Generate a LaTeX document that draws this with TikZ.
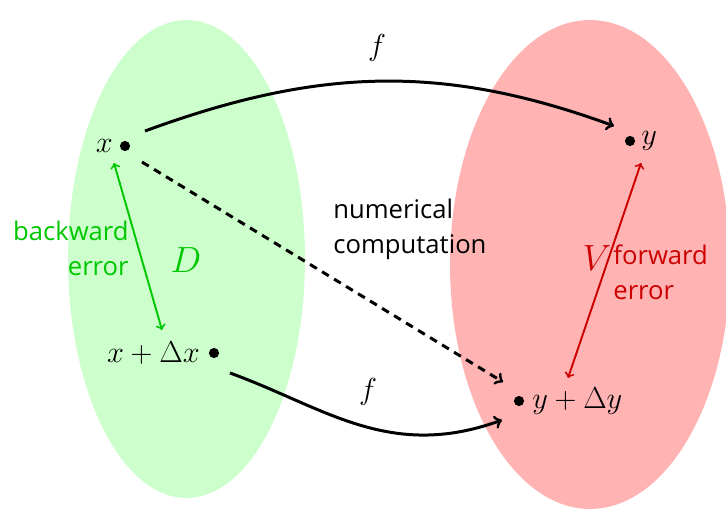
\documentclass[tikz,border=0pt]{standalone}
\usepackage{fontspec}
\newfontfamily\labelfont{Open Sans}
\usetikzlibrary{calc}
\definecolor{gfill}{RGB}{204,255,204}
\definecolor{rfill}{RGB}{255,179,179}
\definecolor{gtext}{RGB}{0,200,0}
\definecolor{rtext}{RGB}{204,0,0}
\begin{document}
\begin{tikzpicture}[x=0.02cm,y=-0.02cm,
  dotnode/.style={circle,fill=black,inner sep=0pt,minimum size=5.8pt},
  mlab/.style={font=\fontsize{16}{19}\selectfont, inner sep=0pt},
  biglab/.style={font=\fontsize{22}{26}\selectfont, inner sep=0pt},
  txt/.style={font=\labelfont\fontsize{14.6}{20}\selectfont, inner sep=0pt},
  farrow/.style={->, line width=1.7pt},
  darrow/.style={->, line width=1.7pt, dash pattern=on 4.5pt off 3.5pt},
  errarrow/.style={<->, line width=1.1pt}]
\useasboundingbox (0,0) rectangle (726,510);
\clip (0,0) rectangle (726,510);
\fill[gfill] (186.5,259) ellipse [x radius=2.37cm, y radius=4.78cm];
\fill[rfill] (590,264.5) ellipse [x radius=2.8cm, y radius=4.89cm];

\node[dotnode] (x) at (125,146) {};
\node[mlab, anchor=east] (xl) at (113,146) {$x$};
\node[dotnode] (y) at (630,141) {};
\node[mlab, anchor=west] (yl) at (641,141) {$y$};
\node[dotnode] (xd) at (214,353) {};
\node[mlab, anchor=east] (xdl) at (200,353) {$x+\Delta x$};
\node[dotnode] (yd) at (519,401) {};
\node[mlab, anchor=west] (ydl) at (532,401) {$y+\Delta y$};

\node[biglab, text=gtext] (D) at (186,260) {$D$};
\node[biglab, text=rtext] (V) at (597,258) {$V$};

\node[txt, text=gtext, align=right, anchor=east] (be) at (129,248) {backward\\error};
\node[txt, text=rtext, align=left, anchor=west] (fe) at (613,272) {forward\\error};
\node[txt, align=left, anchor=west] (nc) at (333,229) {numerical\\computation};

\node[mlab] (f1) at (377,48) {$f$};
\node[mlab] (f2) at (368,392) {$f$};

\draw[farrow] ($(x)+(20,-15)$) .. controls ($(x)+(192,-78)$) and ($(y)+(-188,-78)$) .. ($(y)+(-16,-15)$);
\draw[farrow] ($(xd)+(16,20)$) .. controls ($(xd)+(110,54)$) and ($(yd)+(-130,60)$) .. ($(yd)+(-17,19)$);
\draw[darrow] ($(x)+(17,16)$) -- ($(yd)+(-16,-19)$);
\draw[errarrow, gtext] ($(x)+(-11,17)$) -- ($(xd)+(-52,-23)$);
\draw[errarrow, rtext] ($(y)+(11,22)$) -- ($(yd)+(49,-23)$);
\end{tikzpicture}
\end{document}
